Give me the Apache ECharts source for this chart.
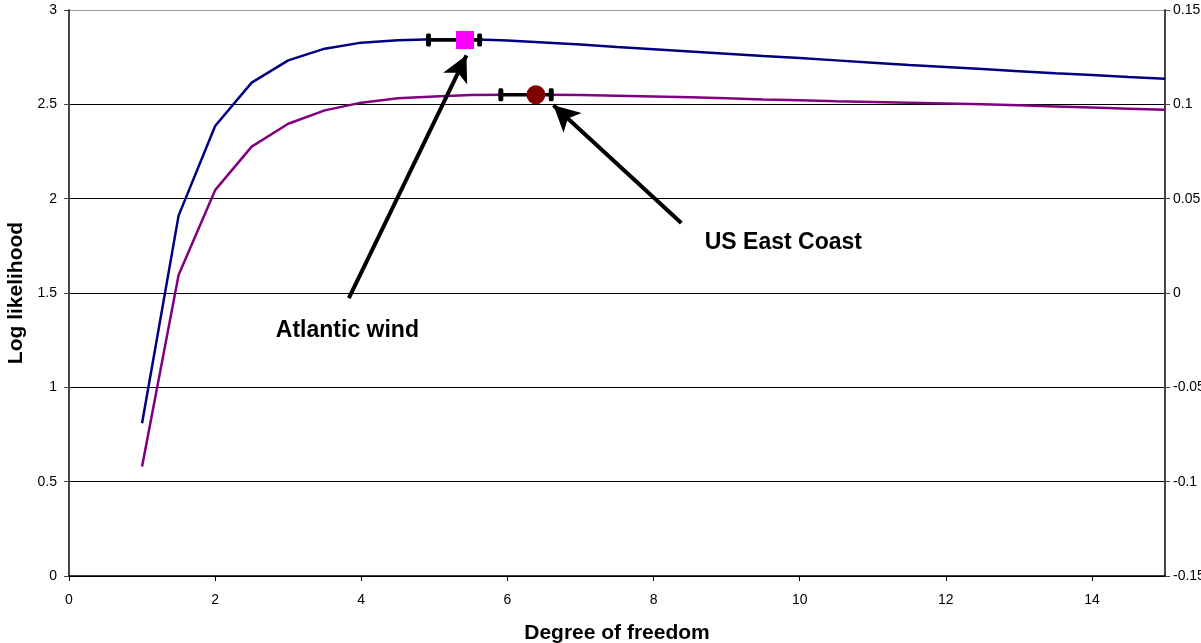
<!DOCTYPE html>
<html>
<head>
<meta charset="utf-8">
<script src="https://cdn.jsdelivr.net/npm/echarts@6/dist/echarts.min.js"></script>
<style>
html,body{margin:0;padding:0;background:#fff;}
#chart{width:1201px;height:643px;}
</style>
</head>
<body>
<div id="chart"></div>
<script>
// ---- data ----
const degreesOfFreedom = [1,1.5,2,2.5,3,3.5,4,4.5,5,5.5,6,6.5,7,7.5,8,8.5,9,9.5,10,10.5,11,11.5,12,12.5,13,13.5,14,14.5,15];
const atlanticWind = [0.81,1.91,2.385,2.615,2.733,2.795,2.827,2.840,2.845,2.845,2.838,2.828,2.817,2.804,2.792,2.780,2.768,2.756,2.745,2.733,2.721,2.709,2.698,2.687,2.676,2.665,2.655,2.645,2.636];
const usEastCoast = [0.58,1.595,2.045,2.276,2.397,2.468,2.509,2.532,2.542,2.549,2.551,2.551,2.549,2.546,2.542,2.537,2.532,2.526,2.521,2.516,2.512,2.508,2.504,2.500,2.495,2.489,2.483,2.477,2.471];
// maximum-likelihood estimate with interval [low, estimate, high], log likelihood at max
const atlanticEstimate = [4.92, 5.42, 5.62, 2.841];
const usEastEstimate = [5.91, 6.39, 6.60, 2.551];
const leftTicks = [0, 3, 0.5];
const rightTicks = [-0.15, 0.15, 0.05];
const xTicks = [0, 15, 2];
// annotation anchors in data space: [label x, label y], arrow [tail x, tail y, tip x, tip y]
const atlanticLabel = ['Atlantic wind', 2.83, 1.30];
const atlanticArrow = [3.83, 1.473, 5.44, 2.76];
const usEastLabel = ['US East Coast', 8.70, 1.765];
const usEastArrow = [8.38, 1.871, 6.63, 2.495];

const FONT = '"Liberation Sans", Arial, sans-serif';
const pairs = (xs, ys) => xs.map((x, i) => [x, ys[i]]);

const chart = echarts.init(document.getElementById('chart'), null, {renderer: 'canvas'});

function errorBar(est, name) {
  return {
    name: name + ' interval',
    type: 'line',
    data: [[est[0], est[3]], [est[2], est[3]]],
    lineStyle: {color: '#000', width: 3.5},
    symbol: 'roundRect',
    symbolSize: [5, 13],
    itemStyle: {color: '#000'},
    showAllSymbol: true,
    silent: true,
    z: 5,
    animation: false
  };
}

function arrowMark(arrow) {
  return [{coord: [arrow[0], arrow[1]], symbol: 'none'}, {coord: [arrow[2], arrow[3]], symbol: 'arrow'}];
}

const option = {
  animation: false,
  backgroundColor: '#fff',
  grid: {left: 69, right: 36, top: 10, bottom: 67, containLabel: false, outerBoundsMode: 'none'},
  xAxis: {
    type: 'value',
    min: xTicks[0], max: xTicks[1], interval: xTicks[2],
    name: 'Degree of freedom',
    nameLocation: 'middle',
    nameGap: 47,
    nameTextStyle: {fontFamily: FONT, fontWeight: 'bold', fontSize: 21, color: '#000'},
    axisLine: {show: true, onZero: false, lineStyle: {color: '#000', width: 1.5}},
    axisTick: {show: true, inside: false, length: 5, lineStyle: {color: '#000'}},
    axisLabel: {fontFamily: FONT, fontSize: 14, color: '#000', margin: 17, showMaxLabel: false},
    splitLine: {show: false}
  },
  yAxis: [
    {
      type: 'value',
      position: 'left',
      min: leftTicks[0], max: leftTicks[1], interval: leftTicks[2],
      name: 'Log likelihood',
      nameLocation: 'middle',
      nameGap: 41,
      nameTextStyle: {fontFamily: FONT, fontWeight: 'bold', fontSize: 21, color: '#000'},
      axisLine: {show: true, lineStyle: {color: '#444', width: 2}},
      axisTick: {show: true, inside: false, length: 5, lineStyle: {color: '#444'}},
      axisLabel: {fontFamily: FONT, fontSize: 14, color: '#000', margin: 12},
      splitLine: {show: true, lineStyle: {color: ['#000', '#000', '#000', '#000', '#000', '#000', '#999'], width: 1}}
    },
    {
      type: 'value',
      position: 'right',
      min: rightTicks[0], max: rightTicks[1], interval: rightTicks[2],
      axisLine: {show: true, lineStyle: {color: '#444', width: 2}},
      axisTick: {show: true, inside: false, length: 5, lineStyle: {color: '#444'}},
      axisLabel: {fontFamily: FONT, fontSize: 14, color: '#000', margin: 8},
      splitLine: {show: false}
    }
  ],
  series: [
    {
      name: 'Atlantic wind',
      type: 'line',
      data: pairs(degreesOfFreedom, atlanticWind),
      symbol: 'none',
      lineStyle: {color: '#000080', width: 2.5},
      z: 3
    },
    {
      name: 'US East Coast',
      type: 'line',
      data: pairs(degreesOfFreedom, usEastCoast),
      symbol: 'none',
      lineStyle: {color: '#800080', width: 2.5},
      z: 3
    },
    errorBar(atlanticEstimate, 'Atlantic wind'),
    errorBar(usEastEstimate, 'US East Coast'),
    {
      name: 'Atlantic wind estimate',
      type: 'scatter',
      data: [[atlanticEstimate[1], atlanticEstimate[3]]],
      symbol: 'rect',
      symbolSize: 18,
      itemStyle: {color: '#ff00ff', opacity: 1},
      z: 6
    },
    {
      name: 'US East Coast estimate',
      type: 'scatter',
      data: [[usEastEstimate[1], usEastEstimate[3]]],
      symbol: 'circle',
      symbolSize: 19,
      itemStyle: {color: '#800000', opacity: 1},
      z: 6
    },
    {
      name: 'annotations',
      type: 'scatter',
      data: [],
      silent: true,
      z: 7,
      markLine: {
        silent: true,
        animation: false,
        symbolSize: [20, 26],
        lineStyle: {color: '#000', width: 4, type: 'solid'},
        label: {show: false},
        data: [arrowMark(atlanticArrow), arrowMark(usEastArrow)]
      },
      markPoint: {
        silent: true,
        animation: false,
        symbol: 'rect',
        symbolSize: 0.1,
        itemStyle: {color: 'transparent'},
        label: {
          show: true,
          position: 'right',
          distance: 0,
          formatter: '{b}',
          fontFamily: FONT,
          fontWeight: 'bold',
          fontSize: 23,
          color: '#000'
        },
        data: [
          {name: atlanticLabel[0], coord: [atlanticLabel[1], atlanticLabel[2]]},
          {name: usEastLabel[0], coord: [usEastLabel[1], usEastLabel[2]]}
        ]
      }
    }
  ]
};
chart.setOption(option);
</script>
</body>
</html>
